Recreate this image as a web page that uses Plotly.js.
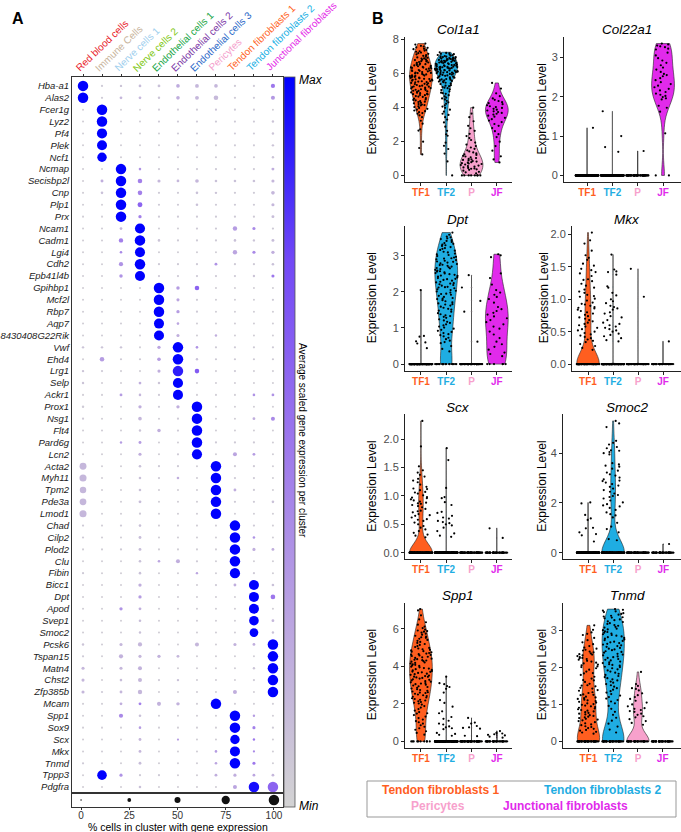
<!DOCTYPE html>
<html><head><meta charset="utf-8">
<script src="https://cdn.plot.ly/plotly-3.0.1.min.js"></script>
<style>html,body{margin:0;padding:0;background:#fff}#chart{width:681px;height:832px}</style>
</head><body><div id="chart"></div>
<script>
// ---------------- Panel A data ----------------
const clusters = ['Red blood cells','Immune Cells','Nerve cells 1','Nerve cells 2','Endothelial cells 1','Endothelial cells 2','Endothelial cells 3','Pericytes','Tendon fibroblasts 1','Tendon fibroblasts 2','Junctional fibroblasts'];
const clusterColors = ['#e8212a','#c8b49c','#9fcfee','#80c814','#18a646','#7a36a6','#2a68c8','#f4a0cc','#ff6424','#18b0e4','#e42ae8'];
const genes = ['Hba-a1','Alas2','Fcer1g','Lyz2','Pf4','Plek','Ncf1','Ncmap','Secisbp2l','Cnp','Plp1','Prx','Ncam1','Cadm1','Lgi4','Cdh2','Epb41l4b','Gpihbp1','Mcf2l','Rbp7','Aqp7','8430408G22Rik','Vwf','Ehd4','Lrg1','Selp','Ackr1','Prox1','Nsg1','Flt4','Pard6g','Lcn2','Acta2','Myh11','Tpm2','Pde3a','Lmod1','Chad','Cilp2','Plod2','Clu','Fibin','Bicc1','Dpt','Apod','Svep1','Smoc2','Pcsk6','Tspan15','Matn4','Chst2','Zfp385b','Mcam','Spp1','Sox9','Scx','Mkx','Tnmd','Tppp3','Pdgfra'];
const pctExpressed = [
[100,8,10,14,14,24,26,24,8,8,30],
[100,8,14,14,10,24,26,34,8,8,28],
[5,100,5,5,7,7,7,8,7,7,5],
[6,100,6,6,7,7,7,8,7,7,10],
[6,96,6,6,6,7,7,7,7,7,10],
[6,94,6,6,6,7,7,7,7,7,10],
[6,88,6,6,6,7,7,7,7,7,10],
[6,6,100,12,8,8,8,8,8,8,16],
[6,16,100,34,18,14,24,12,12,12,18],
[6,12,100,34,8,8,12,10,8,8,24],
[6,6,100,38,8,8,12,8,8,8,18],
[6,6,100,20,8,8,8,8,8,8,16],
[6,6,14,96,6,6,8,8,32,18,8],
[6,6,32,100,12,8,8,8,12,10,16],
[6,6,12,95,6,6,6,6,32,18,20],
[6,6,30,100,8,8,8,15,8,8,12],
[6,6,22,95,8,8,8,8,8,10,18],
[6,6,6,6,100,22,34,6,6,6,6],
[6,6,6,6,100,18,8,6,6,6,8],
[6,6,6,6,100,20,8,6,6,6,6],
[6,6,6,6,95,12,6,6,6,6,6],
[6,6,6,6,95,18,6,10,6,6,6],
[10,10,10,6,20,100,12,8,8,8,8],
[6,34,8,8,24,100,10,8,8,8,8],
[10,8,6,6,18,100,34,6,8,6,6],
[10,6,6,14,10,96,6,6,6,6,6],
[6,6,15,12,8,95,6,6,6,12,14],
[10,6,6,20,8,20,100,6,6,6,6],
[8,6,6,24,6,8,100,6,6,15,28],
[6,6,6,10,22,8,100,6,6,6,6],
[6,6,10,16,6,6,100,8,8,8,6],
[6,6,6,18,6,8,96,6,28,14,6],
[60,6,6,12,8,8,6,100,8,8,6],
[62,6,6,12,8,12,6,100,8,8,6],
[55,6,6,12,6,6,6,100,15,8,6],
[58,6,6,15,6,6,6,100,8,8,12],
[62,6,6,8,6,6,6,100,6,6,6],
[8,6,8,12,6,6,6,6,100,8,6],
[8,6,6,15,6,6,6,6,100,12,6],
[6,6,8,15,6,6,6,6,100,18,15],
[6,6,6,12,12,28,8,6,100,6,6],
[8,6,6,12,6,6,10,6,97,8,6],
[6,6,6,20,6,6,6,8,15,95,12],
[6,6,6,20,6,6,6,6,6,95,35],
[6,6,20,15,6,6,6,6,6,95,6],
[6,6,6,12,6,6,6,6,6,90,15],
[6,6,6,10,6,6,6,6,6,80,10],
[10,6,18,30,6,6,28,6,18,15,100],
[8,6,30,18,20,15,6,6,6,6,100],
[18,6,18,28,6,6,6,6,6,10,100],
[18,6,12,28,8,10,6,6,6,8,100],
[18,8,15,32,6,6,6,6,28,6,100],
[6,6,15,15,28,22,6,100,6,6,6],
[6,6,30,12,6,6,6,6,100,10,6],
[6,6,6,12,6,6,6,6,100,18,8],
[6,6,6,15,6,8,6,6,88,10,6],
[6,6,6,15,6,6,6,12,95,8,6],
[8,6,6,15,6,6,6,12,100,18,6],
[6,90,18,8,8,6,6,15,18,14,14],
[6,6,6,12,6,6,6,6,28,100,100]
];
const avgExpression = [
[1,.05,.08,.12,.1,.22,.15,.15,.05,.05,.5],
[1,.05,.15,.15,.08,.2,.15,.14,.05,.05,.32],
[.03,1,.03,.03,.05,.05,.05,.08,.05,.05,.03],
[.03,1,.03,.03,.05,.05,.05,.05,.05,.05,.08],
[.03,1,.03,.03,.03,.05,.05,.05,.05,.05,.08],
[.03,1,.03,.03,.03,.05,.05,.05,.05,.05,.08],
[.03,1,.03,.03,.03,.05,.05,.05,.05,.05,.08],
[.03,.03,1,.35,.05,.05,.05,.05,.05,.05,.2],
[.03,.2,1,.45,.15,.15,.15,.1,.1,.1,.15],
[.03,.1,1,.45,.05,.05,.1,.08,.05,.05,.15],
[.03,.03,1,.6,.05,.05,.1,.05,.05,.05,.15],
[.03,.03,1,.45,.05,.05,.05,.05,.05,.05,.12],
[.03,.03,.15,1,.03,.03,.05,.05,.3,.4,.05],
[.03,.03,.45,1,.08,.05,.05,.05,.1,.08,.12],
[.03,.03,.4,1,.03,.03,.03,.03,.25,.4,.2],
[.03,.03,.35,1,.05,.05,.05,.35,.05,.05,.1],
[.03,.03,.35,1,.05,.05,.05,.05,.05,.08,.5],
[.03,.03,.03,.03,1,.3,.6,.03,.03,.03,.03],
[.03,.03,.03,.03,1,.25,.05,.03,.03,.03,.05],
[.03,.03,.03,.03,1,.3,.05,.03,.03,.03,.03],
[.03,.03,.03,.03,1,.25,.03,.03,.03,.03,.03],
[.03,.03,.03,.03,1,.2,.03,.2,.03,.03,.03],
[.08,.08,.08,.03,.25,1,.35,.05,.05,.05,.05],
[.03,.3,.05,.05,.3,1,.1,.05,.05,.05,.05],
[.08,.05,.03,.03,.2,.9,.65,.03,.05,.03,.03],
[.08,.03,.03,.2,.08,1,.03,.03,.03,.03,.03],
[.03,.03,.3,.15,.05,1,.03,.03,.03,.35,.35],
[.05,.03,.03,.2,.05,.2,1,.03,.03,.03,.03],
[.05,.03,.03,.15,.03,.05,1,.03,.03,.2,.4],
[.03,.03,.03,.08,.2,.05,1,.03,.03,.03,.03],
[.03,.03,.3,.3,.03,.03,1,.05,.05,.05,.03],
[.03,.03,.03,.2,.03,.05,1,.03,.25,.3,.03],
[.15,.03,.03,.1,.05,.05,.03,1,.05,.05,.03],
[.15,.03,.03,.1,.05,.2,.03,1,.05,.05,.03],
[.15,.03,.03,.1,.03,.03,.03,1,.2,.05,.03],
[.15,.03,.03,.12,.03,.03,.03,1,.05,.05,.1],
[.15,.03,.03,.05,.03,.03,.03,1,.03,.03,.03],
[.05,.03,.05,.1,.03,.03,.03,.03,1,.05,.03],
[.05,.03,.03,.12,.03,.03,.03,.03,1,.35,.03],
[.03,.03,.05,.12,.03,.03,.03,.03,1,.2,.2],
[.03,.03,.03,.1,.25,.2,.05,.03,1,.03,.03],
[.05,.03,.03,.1,.03,.03,.25,.03,1,.05,.03],
[.03,.03,.03,.2,.03,.03,.03,.05,.2,1,.1],
[.03,.03,.03,.3,.03,.03,.03,.03,.03,1,.5],
[.03,.03,.35,.2,.03,.03,.03,.03,.03,1,.03],
[.03,.03,.03,.12,.03,.03,.03,.03,.03,1,.15],
[.03,.03,.03,.1,.03,.03,.03,.03,.03,1,.1],
[.08,.03,.15,.15,.03,.03,.15,.03,.18,.2,1],
[.05,.03,.18,.15,.18,.15,.03,.03,.03,.03,1],
[.15,.03,.15,.18,.03,.03,.03,.03,.03,.08,1],
[.15,.03,.12,.15,.05,.1,.03,.03,.03,.05,1],
[.15,.05,.15,.15,.03,.03,.03,.03,.2,.03,1],
[.03,.03,.2,.45,.18,.18,.03,1,.03,.03,.03],
[.03,.03,.4,.1,.03,.03,.03,.03,1,.3,.03],
[.03,.03,.03,.3,.03,.03,.03,.03,1,.45,.05],
[.03,.03,.03,.15,.03,.3,.03,.03,1,.5,.03],
[.03,.03,.03,.15,.03,.03,.03,.3,1,.4,.03],
[.05,.03,.03,.12,.03,.03,.03,.25,1,.5,.03],
[.03,1,.35,.05,.05,.03,.03,.2,.2,.25,.15],
[.03,.03,.03,.1,.03,.03,.03,.03,.25,.95,.6]
];
const sizeBreaks = [0,25,50,75,100];

// ---------------- Panel B data ----------------
const vlnGroups = ['TF1','TF2','P','JF'];
const vlnGroupNames = ['Tendon fibroblasts 1','Tendon fibroblasts 2','Pericytes','Junctional fibroblasts'];
const vlnColors = ['#ff5e1f','#1fade2','#f7a1cc','#e12aeb'];
const cellsPerGroup = [150,150,60,40];
const vlnGenes = ['Col1a1','Col22a1','Dpt','Mkx','Scx','Smoc2','Spp1','Tnmd'];
// non-zero expression values per group (TF1, TF2, P, JF); remaining cells of each group are 0
const Col1a1 = [
 [7.74,7.68,7.61,7.57,7.52,7.49,7.44,7.41,7.33,7.29,7.26,7.18,7.14,7.11,7.06,7.02,7.37,7.21,
  6.97,6.91,6.86,6.81,6.77,6.71,6.66,6.63,6.54,6.51,6.93,6.87,6.73,6.69,6.61,6.57,6.79,6.53,
  6.46,6.41,6.36,6.31,6.27,6.19,6.16,6.11,6.04,6.01,6.49,6.43,6.37,6.33,6.29,6.23,6.17,6.13,6.07,6.02,6.34,6.14,
  5.96,5.91,5.84,5.81,5.76,5.71,5.66,5.61,5.56,5.51,5.99,5.93,5.87,5.83,5.78,5.73,5.67,5.63,5.58,5.53,5.86,5.74,5.64,5.54,
  5.47,5.41,5.36,5.31,5.24,5.21,5.16,5.11,5.06,5.01,5.48,5.43,5.38,5.33,5.27,5.22,5.18,5.13,5.08,5.03,
  4.96,4.91,4.86,4.79,4.76,4.71,4.66,4.61,4.54,4.51,4.97,4.93,4.87,4.83,4.77,4.72,4.63,
  4.46,4.41,4.36,4.31,4.26,4.19,4.16,4.11,4.06,4.01,4.43,4.33,4.23,4.13,
  3.96,3.91,3.81,3.71,3.62,3.53,3.86,3.66,3.77,3.42,3.21,3.04,2.71,2.63,1.98,1.23,1.61],
 [7.23,7.19,7.17,7.12,7.1,7.07,7.05,7.03,7.01,7.14,
  6.99,6.95,6.94,6.91,6.9,6.87,6.86,6.83,6.81,6.8,6.78,6.75,6.74,6.71,6.7,6.68,6.65,6.64,6.61,6.6,6.58,6.55,6.54,6.52,6.5,6.97,6.89,6.84,6.77,6.72,6.63,6.57,6.67,6.73,6.85,
  6.49,6.46,6.45,6.42,6.41,6.39,6.36,6.35,6.32,6.31,6.29,6.26,6.25,6.23,6.2,6.19,6.16,6.15,6.13,6.1,6.09,6.07,6.04,6.03,6.0,6.48,6.44,6.38,6.34,6.28,6.22,6.17,6.12,6.06,6.02,6.37,6.27,6.18,6.08,
  5.98,5.94,5.9,5.87,5.83,5.8,5.76,5.73,5.69,5.66,5.62,5.58,5.55,5.52,5.96,5.85,5.74,5.64,5.92,5.78,5.6,5.51,
  5.47,5.41,5.36,5.3,5.24,5.19,5.12,5.06,5.01,5.44,5.27,5.15,
  4.94,4.86,4.79,4.71,4.64,4.57,4.52,4.83,4.46,4.38,4.29,4.21,4.12,4.04,
  3.97,3.86,3.74,3.62,3.55,3.42,3.28,3.11,2.86,2.62,2.41,2.33,1.92,1.74,1.55,1.28,0.82],
 [0.12,0.21,0.28,0.33,0.36,0.41,0.44,0.47,0.18,0.39,0.52,0.55,0.58,0.61,0.64,0.67,0.7,0.72,0.75,0.78,0.81,0.84,0.88,0.91,0.94,0.97,
  1.02,1.06,1.11,1.15,1.2,1.24,1.29,1.35,1.41,1.47,1.56,1.64,1.72,1.81,1.93,2.08,2.19,2.31,2.44,2.62,2.77,2.91,3.18,3.42,3.63,3.98],
 [5.43,5.1,4.82,4.65,4.52,4.44,4.37,4.3,4.24,4.18,4.12,4.06,4.01,3.96,3.91,3.86,3.81,3.76,3.72,3.67,3.62,3.57,3.51,3.45,3.38,3.3,3.22,3.13,3.02,2.91,2.78,2.6,2.42,2.25,1.98,1.72,1.45,1.12,0.94,0.76]
];
const Col22a1 = [
 [1.21],
 [1.63,1.0,0.72,0.6],
 [0.62],
 [3.35,3.33,3.3,3.28,3.26,3.22,3.2,3.12,3.05,2.98,2.92,2.86,2.8,2.74,2.69,2.63,2.58,2.52,2.47,2.42,2.37,2.32,2.28,2.24,2.2,2.16,2.12,2.08,2.05,2.02,1.99,1.96,1.93,1.77,1.72,1.62,1.07,2.55]
];
const Dpt = [
 [2.05,0.78,0.76,0.63,0.6,0.57,0.44],
 [3.64,3.58,3.53,3.51,3.48,3.46,3.43,3.41,3.38,3.35,3.33,3.29,3.27,3.24,3.21,3.19,3.16,3.14,3.11,3.09,3.06,3.04,3.02,3.31,
  2.99,2.97,2.95,2.92,2.9,2.88,2.86,2.83,2.81,2.79,2.77,2.74,2.72,2.7,2.68,2.65,2.63,2.61,2.59,2.56,2.54,2.52,2.51,2.93,2.84,2.75,2.66,2.57,
  2.49,2.47,2.45,2.42,2.4,2.38,2.35,2.33,2.31,2.28,2.26,2.24,2.21,2.19,2.17,2.14,2.12,2.1,2.07,2.05,2.03,2.01,2.44,2.36,2.23,2.13,
  1.98,1.95,1.92,1.89,1.86,1.83,1.8,1.77,1.74,1.71,1.68,1.65,1.62,1.59,1.56,1.53,1.51,1.94,1.81,1.66,
  1.48,1.45,1.41,1.38,1.35,1.31,1.28,1.24,1.21,1.17,1.14,1.1,1.07,1.04,1.01,1.33,
  0.98,0.95,0.92,0.89,0.86,0.83,0.8,0.77,0.73,0.69,0.65,0.61,0.58,0.5,0.42,0.35],
 [2.46,2.12,1.75,1.45,0.62],
 [3.04,3.01,2.96,2.51,2.38,2.2,2.05,1.98,1.92,1.86,1.8,1.7,1.58,1.52,1.47,1.42,1.37,1.32,1.27,1.22,1.16,1.1,1.04,0.98,0.9,0.82,0.72,0.62,0.55,0.48,0.4,0.32,0.28,0.22]
];
const Mkx = [
 [2.03,1.91,1.86,1.75,1.68,1.64,1.61,1.55,1.52,1.47,1.42,1.4,1.36,1.31,1.28,1.24,1.21,1.18,1.15,1.12,1.1,1.07,1.04,1.01,0.98,0.95,0.93,0.9,0.88,0.86,
  0.84,0.82,0.8,0.78,0.76,0.74,0.72,0.7,0.68,0.66,0.64,0.62,0.6,0.58,0.56,0.54,0.52,0.5,0.48,0.46,0.44,0.42,0.4,0.38,0.36,0.34,0.31,0.28,0.25,0.22,0.92,0.87,1.05,1.3,1.45],
 [1.69,1.46,1.43,1.42,1.38,1.2,1.18,1.06,1.0,0.97,0.94,0.9,0.88,0.86,0.84,0.8,0.78,0.72,0.68,0.64,0.6,0.58,0.56,0.54,0.5,0.47,0.45,0.43,0.4,0.37,0.35,0.62,0.74,1.1,0.52],
 [1.47,1.04],
 [0.35]
];
const Scx = [
 [2.32,1.87,1.52,1.45,1.41,1.37,1.34,1.3,1.27,1.24,1.2,1.16,1.13,1.1,1.07,1.04,1.01,0.98,0.96,0.94,0.92,0.9,0.88,0.86,0.84,0.82,0.8,0.77,0.74,0.71,
  0.68,0.65,0.62,0.59,0.56,0.53,0.5,0.47,0.44,0.41,0.38,0.35,0.32,0.3,0.27,1.06,0.97,0.87,0.73,0.58,1.12,0.66],
 [1.84,1.63,1.14,0.98,0.96,0.89,0.84,0.72,0.7,0.65,0.6,0.56,0.54,0.52,0.5,0.48,0.44,0.38,0.34,0.3,0.28,0.62],
 [],
 [0.43,0.26]
];
const Smoc2 = [
 [2.02,1.98,1.52,1.38,1.32,1.0,0.98,0.82,0.75,0.7,0.45],
 [5.3,5.2,5.05,4.5,4.42,4.35,4.25,4.2,4.12,4.05,4.0,3.95,3.55,3.5,3.46,3.38,3.3,3.22,3.15,3.1,3.02,2.95,2.88,2.82,2.76,2.7,2.65,2.58,2.52,2.45,
  2.38,2.32,2.28,2.24,2.18,2.1,2.02,1.95,1.9,1.86,1.8,1.72,1.62,1.55,1.5,1.42,1.2,1.05,0.95,0.82,0.55,0.5,2.9,3.6,4.1],
 [],
 [0.35]
];
const Spp1 = [
 [7.05,6.98,6.72,6.5,6.35,6.22,6.12,6.04,
  5.96,5.91,5.85,5.8,5.74,5.69,5.63,5.58,5.52,5.47,5.41,5.36,5.3,5.25,5.19,5.14,5.08,5.03,5.88,5.55,
  4.98,4.95,4.91,4.88,4.85,4.81,4.78,4.75,4.71,4.68,4.65,4.61,4.58,4.55,4.51,4.48,4.45,4.41,4.38,4.35,4.31,4.28,4.25,4.21,4.18,4.15,4.11,4.08,4.05,4.02,4.62,4.33,
  3.98,3.95,3.91,3.88,3.85,3.81,3.78,3.75,3.71,3.68,3.65,3.61,3.58,3.55,3.51,3.48,3.45,3.41,3.38,3.35,3.31,3.28,3.25,3.21,3.18,3.15,3.11,3.08,3.05,3.02,3.72,3.44,
  2.98,2.94,2.9,2.86,2.82,2.78,2.74,2.7,2.66,2.62,2.58,2.54,2.5,2.46,2.42,2.38,2.34,2.3,2.26,2.22,2.18,2.14,2.1,2.06,2.02,2.6,
  1.96,1.88,1.8,1.72,1.64,1.56,1.48,1.4,1.32,1.24,1.16,1.08,1.02,1.5,0.95,0.86,0.78,0.7,0.62,0.54,0.45,0.36],
 [3.45,3.1,3.05,2.95,2.8,2.9,2.6,2.2,2.05,1.6,1.5,1.3,1.2,1.1,0.95,0.9,0.8,0.75,0.7,0.65,0.45,0.4,0.35,0.3,1.85],
 [1.25,1.0,0.82,0.75,0.72,0.68,0.3,0.28,0.95],
 [0.55,0.45,0.42,0.35,0.32,0.25,0.2,0.38]
];
const Tnmd = [
 [3.14,3.02,2.95,2.88,2.8,2.74,2.68,2.63,2.58,2.54,2.51,2.91,
  2.48,2.46,2.43,2.41,2.38,2.36,2.33,2.31,2.28,2.26,2.23,2.21,2.18,2.16,2.13,2.11,2.08,2.06,2.03,2.01,2.35,2.25,
  1.98,1.94,1.89,1.84,1.8,1.75,1.7,1.66,1.61,1.56,1.52,1.51,1.85,1.65,
  1.49,1.45,1.43,1.39,1.37,1.33,1.31,1.27,1.25,1.21,1.19,1.17,1.15,1.13,1.11,1.09,1.07,1.05,1.03,1.01,1.26,
  0.99,0.97,0.95,0.93,0.91,0.89,0.87,0.85,0.83,0.81,0.79,0.77,0.75,0.73,0.71,0.69,0.67,0.65,0.63,0.61,0.59,0.57,0.55,0.52,
  0.49,0.46,0.44,0.41,0.39,0.36,0.34,0.31,0.29,0.26,0.24,0.21],
 [3.58,3.56,3.54,3.52,3.5,3.47,3.45,3.43,3.4,3.38,3.35,3.33,3.3,3.28,3.25,3.23,3.2,3.18,3.15,3.13,3.1,3.08,3.05,3.03,3.01,3.36,
  2.98,2.96,2.94,2.92,2.9,2.88,2.86,2.84,2.82,2.8,2.78,2.76,2.74,2.72,2.7,2.68,2.66,2.64,2.62,2.6,2.58,2.56,2.53,2.51,
  2.49,2.47,2.44,2.42,2.4,2.37,2.35,2.33,2.3,2.28,2.26,2.23,2.21,2.19,2.16,2.14,2.12,2.09,2.07,2.05,2.02,2.01,
  1.98,1.95,1.92,1.89,1.86,1.83,1.8,1.77,1.74,1.71,1.68,1.65,1.62,1.59,1.55,1.52,
  1.48,1.44,1.4,1.36,1.32,1.28,1.24,1.2,1.16,1.12,1.08,1.03,0.96,0.88,0.8,0.72,0.64,0.56,0.48,0.4,0.32,0.24],
 [1.88,1.55,1.5,1.44,1.42,1.38,1.3,1.25,1.2,1.15,1.1,1.05,1.0,0.95,0.9,0.88,0.85,0.82,0.8,0.75,0.72,0.68,0.65,0.6,0.55,0.5,0.45],
 []
];
const vlnData = [Col1a1, Col22a1, Dpt, Mkx, Scx, Smoc2, Spp1, Tnmd];
const vlnDtick = [2,1,1,0.5,0.5,2,2,1];
const vlnTickFormat = ['d','d','d','.1f','.1f','d','d','d'];

// ---------------- geometry / style helpers ----------------
const W = 681, H = 832;
const fx = p => p / W;
const fy = p => 1 - p / H;
const FONT = 'Arial, "Liberation Sans", sans-serif';
const colorScale = [[0,'#d3d3d3'],[0.25,'#bba5e0'],[0.5,'#9d77ec'],[0.75,'#7248f6'],[1,'#0000ff']];
const dotDiameter = p => 1.5 + 0.09 * p;   // radius scale like Seurat DotPlot

function quantile(s, p){ const h=(s.length-1)*p, lo=Math.floor(h), hi=Math.ceil(h); return s[lo]+(h-lo)*(s[hi]-s[lo]); }
// bandwidth as ggplot's bw.nrd0; Seurat's tiny noise makes it near-zero when the upper quartile is 0
function bandwidthFor(v){
  const n = v.length, s = [...v].sort((a,b)=>a-b), mx = s[n-1];
  if(mx > 0 && quantile(s,0.75) === 0) return mx/300;
  const mean = v.reduce((a,b)=>a+b,0)/n;
  const sd = n>1 ? Math.sqrt(v.reduce((a,b)=>a+(b-mean)*(b-mean),0)/(n-1)) : 0;
  let lo = Math.min(sd, (quantile(s,0.75)-quantile(s,0.25))/1.34);
  if(!lo) lo = sd || Math.abs(s[0]) || 1;
  return 0.9*lo*Math.pow(n,-0.2);
}

const traces = [];
const layout = {
  width: W, height: H, margin:{l:0,r:0,t:0,b:0}, paper_bgcolor:'#fff', plot_bgcolor:'rgba(0,0,0,0)',
  showlegend:false, hovermode:false, violinmode:'overlay',
  font:{family:FONT, color:'#000'},
  annotations:[], shapes:[]
};
function ann(text, xpx, ypx, opts){
  layout.annotations.push(Object.assign({text:text, x:fx(xpx), y:fy(ypx), xref:'paper', yref:'paper',
    showarrow:false, xanchor:'center', yanchor:'middle', font:{size:12, family:FONT, color:'#000'}}, opts||{}));
}

// ---------------- Panel A: dot plot ----------------
const dx=[], dy=[], ds=[], dc=[];
genes.forEach((g,i)=>clusters.forEach((c,j)=>{dx.push(c); dy.push(g); ds.push(dotDiameter(pctExpressed[i][j])); dc.push(avgExpression[i][j]);}));
traces.push({
  type:'scatter', mode:'markers', x:dx, y:dy, xaxis:'x', yaxis:'y', hoverinfo:'skip',
  marker:{size:ds, sizemode:'diameter', sizeref:1, opacity:1, color:dc, cmin:0, cmax:1,
    colorscale:colorScale, line:{width:0}, showscale:true,
    colorbar:{x:fx(284), xanchor:'left', xref:'paper', y:fy(77), yanchor:'top', yref:'paper',
      len:(807-77)/H, lenmode:'fraction', thickness:11, thicknessmode:'pixels', xpad:0, ypad:0,
      outlinewidth:0.8, outlinecolor:'#555', borderwidth:0, showticklabels:false, ticks:''}}
});
traces.push({
  type:'scatter', mode:'markers', x:sizeBreaks, y:sizeBreaks.map(()=>0.5), xaxis:'x2', yaxis:'y2', hoverinfo:'skip',
  marker:{size:sizeBreaks.map(dotDiameter), sizemode:'diameter', sizeref:1, opacity:1, color:'#111', line:{width:0}}
});
const axLine = {showline:true, linecolor:'#333', linewidth:1, mirror:true, showgrid:false, zeroline:false, fixedrange:true};
layout.xaxis = Object.assign({}, axLine, {
  domain:[fx(72),fx(283)], anchor:'y', type:'category', categoryorder:'array', categoryarray:clusters,
  range:[-0.58,10.53], side:'top', tickmode:'array', tickvals:clusters, showticklabels:false,
  ticks:'outside', ticklen:2, tickcolor:'#333'
});
layout.yaxis = Object.assign({}, axLine, {
  domain:[fy(793),fy(77)], anchor:'x', type:'category', categoryorder:'array', categoryarray:genes,
  range:[59.5,-0.75], tickmode:'array', tickvals:genes, ticktext:genes.map(g=>'<i>'+g+'</i>'),
  tickfont:{size:9.5, color:'#1a1a1a', family:FONT}, ticks:''
});
layout.xaxis2 = Object.assign({}, axLine, {
  domain:[fx(72),fx(283)], anchor:'y2', range:[-4.7,104.7], tickmode:'array', tickvals:sizeBreaks,
  ticks:'outside', ticklen:2, tickcolor:'#333', ticklabelstandoff:-3, tickfont:{size:10, color:'#333', family:FONT}
});
layout.yaxis2 = Object.assign({}, axLine, {
  domain:[fy(807),fy(793)], anchor:'x2', range:[0,1], showticklabels:false, ticks:''
});
// rotated, coloured cluster names above the columns
clusters.forEach((c,j)=>layout.annotations.push({text:c, x:c, xref:'x', y:fy(76), yref:'paper',
  xanchor:'left', yanchor:'bottom', xshift:-12, textangle:-44, showarrow:false,
  font:{size:10, family:FONT, color:clusterColors[j]}}));

ann('<b>A</b>', 18, 18, {font:{size:16, family:FONT}});
ann('<b>B</b>', 378, 19, {font:{size:16, family:FONT}});
ann('<i>Max</i>', 297, 80, {xanchor:'left', font:{size:12, family:FONT}});
ann('<i>Min</i>', 297, 806, {xanchor:'left', font:{size:12, family:FONT}});
ann('Average scaled gene expression per cluster', 303, 440, {textangle:90, font:{size:10, family:FONT}});
ann('% cells in cluster with gene expression', 178, 826.5, {font:{size:10.5, family:FONT}});

// ---------------- Panel B: violin plots ----------------
const rowPx = [[37,182],[226,370.7],[414.3,559.3],[602.5,748]];
const leftDomain = [405,512], leftRange = [-0.63,3.6];
const rightLeft = [564,572,563,563];
const rightRanges = [[-0.91,3.71],[-0.64,3.72],[-1.0,3.71],[-1.03,3.74]];
const CLEAR = 'rgba(0,0,0,0)';
vlnGenes.forEach((gene,k)=>{
  const n = k+3, col = k%2, row = Math.floor(k/2);
  const xl = col===0 ? leftDomain[0] : rightLeft[row];
  const xr = col===0 ? leftDomain[1] : 681;
  const xrange = col===0 ? leftRange : rightRanges[row];
  let ymax = 0;
  vlnGroups.forEach((grp,g)=>{
    const nz = vlnData[k][g];
    const zeros = new Array(Math.max(0,cellsPerGroup[g]-nz.length)).fill(0);
    const vals = nz.concat(zeros);
    ymax = Math.max(ymax, ...vals);
    const base = {type:'violin', x0:grp, xaxis:'x'+n, yaxis:'y'+n, name:grp, hoverinfo:'skip',
      scalemode:'width', width:0.9, spanmode:'hard', opacity:1};
    // violin body (no points)
    if(nz.length){
      traces.push(Object.assign({}, base, {y:vals, points:false, fillcolor:vlnColors[g],
        line:{color:'#222', width:0.6}, bandwidth:bandwidthFor(vals)}));
    }
    // jittered cell points (expressing and non-expressing cells jittered separately)
    [nz.filter(v=>v>0), vals.filter(v=>v===0)].forEach(sub=>{
      if(!sub.length) return;
      traces.push(Object.assign({}, base, {y:sub, points:'all', jitter:1, pointpos:0,
        fillcolor:CLEAR, line:{color:CLEAR, width:0}, bandwidth:bandwidthFor(sub),
        marker:{size:2.2, color:'#000', opacity:1, line:{width:0}}}));
    });
  });
  layout['xaxis'+n] = {domain:[fx(xl),fx(xr)], anchor:'y'+n, type:'category', categoryorder:'array', categoryarray:vlnGroups,
    range:xrange, tickmode:'array', tickvals:vlnGroups,
    ticktext:vlnGroups.map((g,i)=>'<span style="color:'+vlnColors[i]+'"><b>'+g+'</b></span>'),
    tickfont:{size:10, family:FONT}, ticks:'outside', ticklen:3, tickcolor:'#222', ticklabelstandoff:-2,
    showline:true, linecolor:'#222', linewidth:1, showgrid:false, zeroline:false, fixedrange:true};
  layout['yaxis'+n] = {domain:[fy(rowPx[row][1]), fy(rowPx[row][0])], anchor:'x'+n,
    range:[-0.05*ymax, 1.05*ymax], dtick:vlnDtick[k], tick0:0, tickformat:vlnTickFormat[k],
    ticks:'outside', ticklen:3, tickcolor:'#222', tickfont:{size:11, color:'#4d4d4d', family:FONT},
    showline:true, linecolor:'#222', linewidth:1, showgrid:false, zeroline:false, fixedrange:true};
  const titleX = col===0 ? 458 : 627;
  ann('<i>'+gene+'</i>', titleX, rowPx[row][0]-7, {font:{size:13.5, family:FONT}});
  const ytX = col===0 ? 372 : (row===1 ? 544 : 542);
  ann('Expression Level', ytX, (rowPx[row][0]+rowPx[row][1])/2, {textangle:-90, font:{size:12, family:FONT}});
});

// legend box for panel B
layout.shapes.push({type:'rect', xref:'paper', yref:'paper', x0:fx(367), x1:fx(676), y0:fy(817), y1:fy(781), line:{color:'#999', width:1}});
const legPos = [[440,790],[602,790],[438,806],[565,806]];
vlnGroupNames.forEach((nm,i)=>ann('<b>'+nm+'</b>', legPos[i][0], legPos[i][1], {font:{size:12, color:vlnColors[i], family:FONT}}));

Plotly.newPlot('chart', traces, layout, {staticPlot:true, displayModeBar:false});
</script></body></html>
